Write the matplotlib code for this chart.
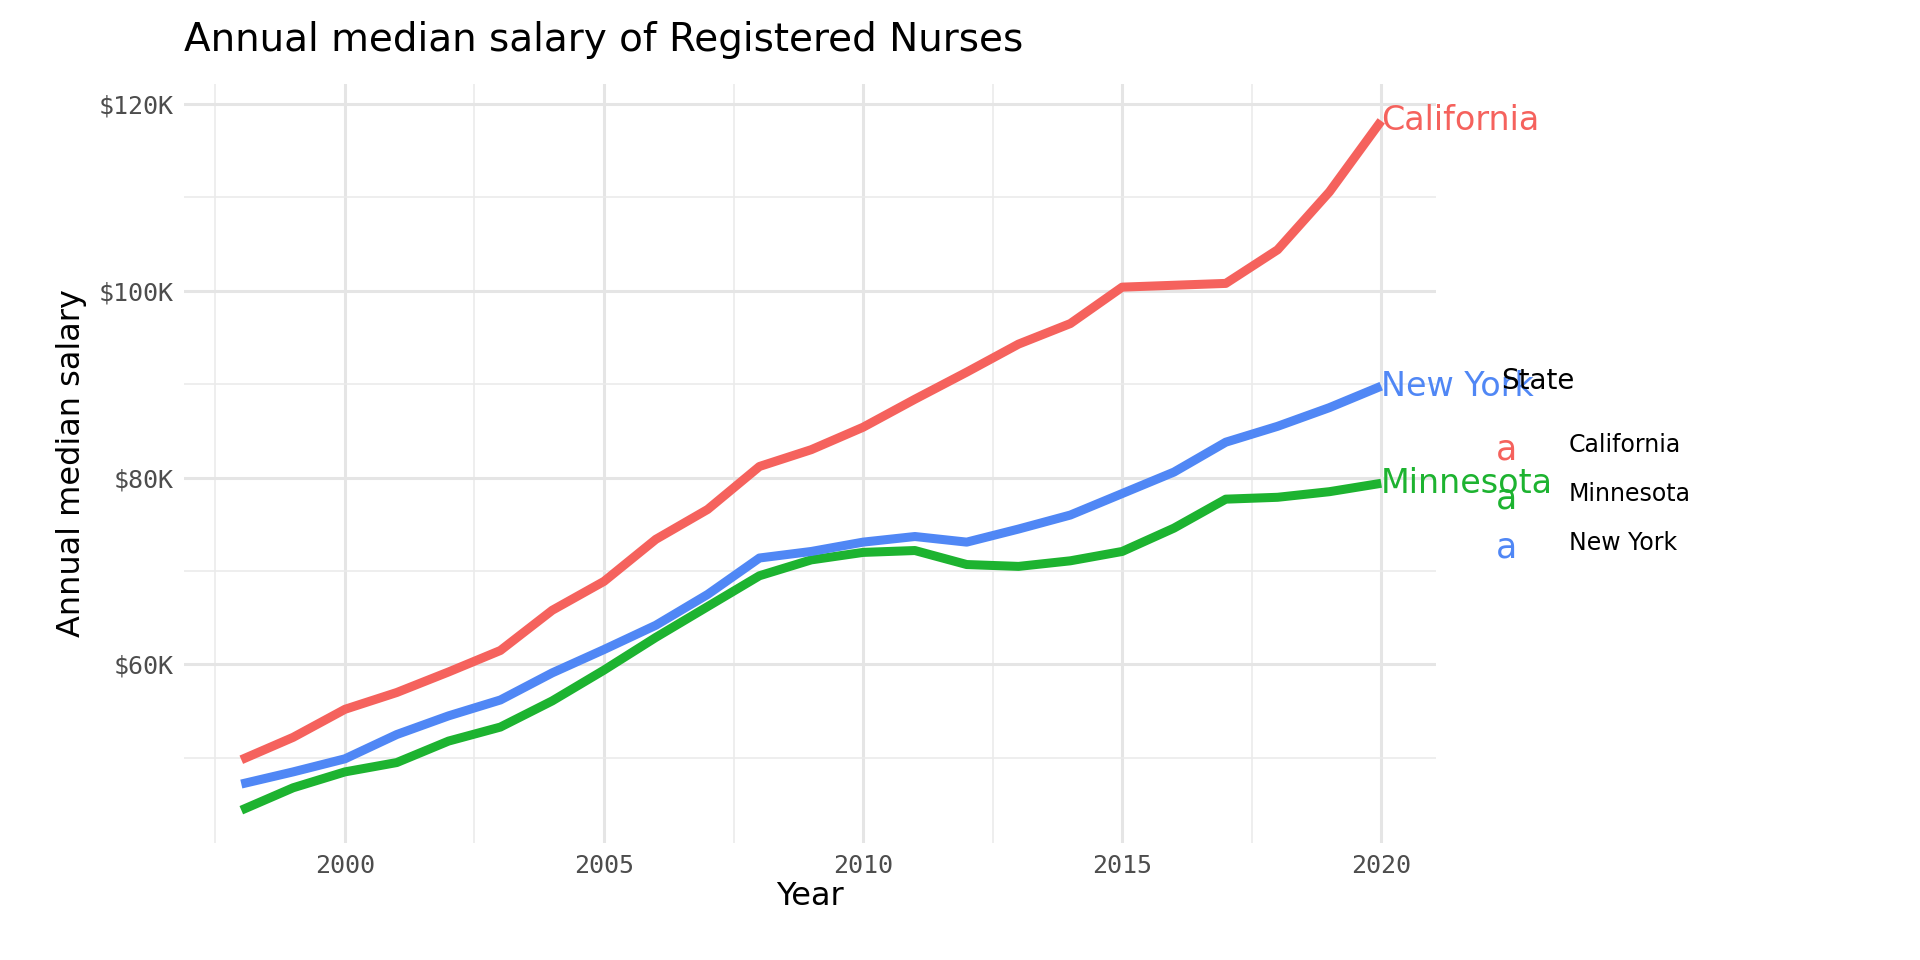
import matplotlib
matplotlib.use("Agg")
import matplotlib.pyplot as plt
import matplotlib.ticker as ticker

years = list(range(1998, 2021))
california = [49.8, 52.2, 55.2, 57.0, 59.2, 61.5, 65.8, 68.9, 73.4, 76.6, 81.2, 83.0,
              85.4, 88.4, 91.3, 94.3, 96.5, 100.4, 100.6, 100.8, 104.4, 110.6, 118.2]
new_york = [47.2, 48.5, 49.9, 52.5, 54.5, 56.2, 59.1, 61.6, 64.2, 67.5, 71.4, 72.1,
            73.1, 73.7, 73.1, 74.5, 76.0, 78.3, 80.6, 83.8, 85.5, 87.5, 89.8]
minnesota = [44.4, 46.8, 48.5, 49.5, 51.8, 53.3, 56.1, 59.4, 62.9, 66.2, 69.5, 71.2,
             72.0, 72.2, 70.7, 70.5, 71.1, 72.1, 74.6, 77.7, 77.9, 78.5, 79.4]
states = ["California", "Minnesota", "New York"]
colors = {"California": "#F5625D", "Minnesota": "#1DB330", "New York": "#5087F5"}
series = {"California": california, "Minnesota": minnesota, "New York": new_york}

fig = plt.figure(figsize=(19.2, 9.6), dpi=100)
ax = fig.add_axes([0.096, 0.122, 0.652, 0.791])

for s in states:
    ax.plot(years, [v * 1000 for v in series[s]], color=colors[s], lw=6.5, solid_capstyle="butt")
    ax.text(2020, series[s][-1] * 1000, s, color=colors[s], fontsize=24,
            va="center", ha="left", clip_on=False)

ax.set_xlim(1996.9, 2021.06)
ax.set_ylim(40900, 122200)
ax.xaxis.set_major_locator(ticker.MultipleLocator(5))
ax.xaxis.set_minor_locator(ticker.MultipleLocator(2.5))
ax.yaxis.set_major_locator(ticker.MultipleLocator(20000))
ax.yaxis.set_minor_locator(ticker.MultipleLocator(10000))
ax.yaxis.set_major_formatter(ticker.FuncFormatter(lambda v, p: f"${v/1000:.0f}K"))
ax.grid(which="major", color="#E5E5E5", lw=2.2)
ax.grid(which="minor", color="#EBEBEB", lw=1.2)
ax.set_axisbelow(True)
for sp in ax.spines.values():
    sp.set_visible(False)
ax.tick_params(which="both", length=0, labelsize=18, colors="#4D4D4D", pad=8)
for lab in ax.get_xticklabels() + ax.get_yticklabels():
    lab.set_family("DejaVu Sans Mono")

ax.set_xlabel("Year", fontsize=23, labelpad=2)
ax.set_ylabel("Annual median salary", fontsize=23, labelpad=8)
fig.text(0.096, 0.958, "Annual median salary of Registered Nurses", fontsize=28, va="center")

# legend
fig.text(0.782, 0.603, "State", fontsize=20, va="center")
for i, s in enumerate(states):
    y = 0.532 - i * 0.051
    fig.text(0.779, y, "a", color=colors[s], fontsize=25, va="center")
    fig.text(0.817, y + 0.004, s, fontsize=17, va="center")

fig.savefig("out.png", dpi=100)
